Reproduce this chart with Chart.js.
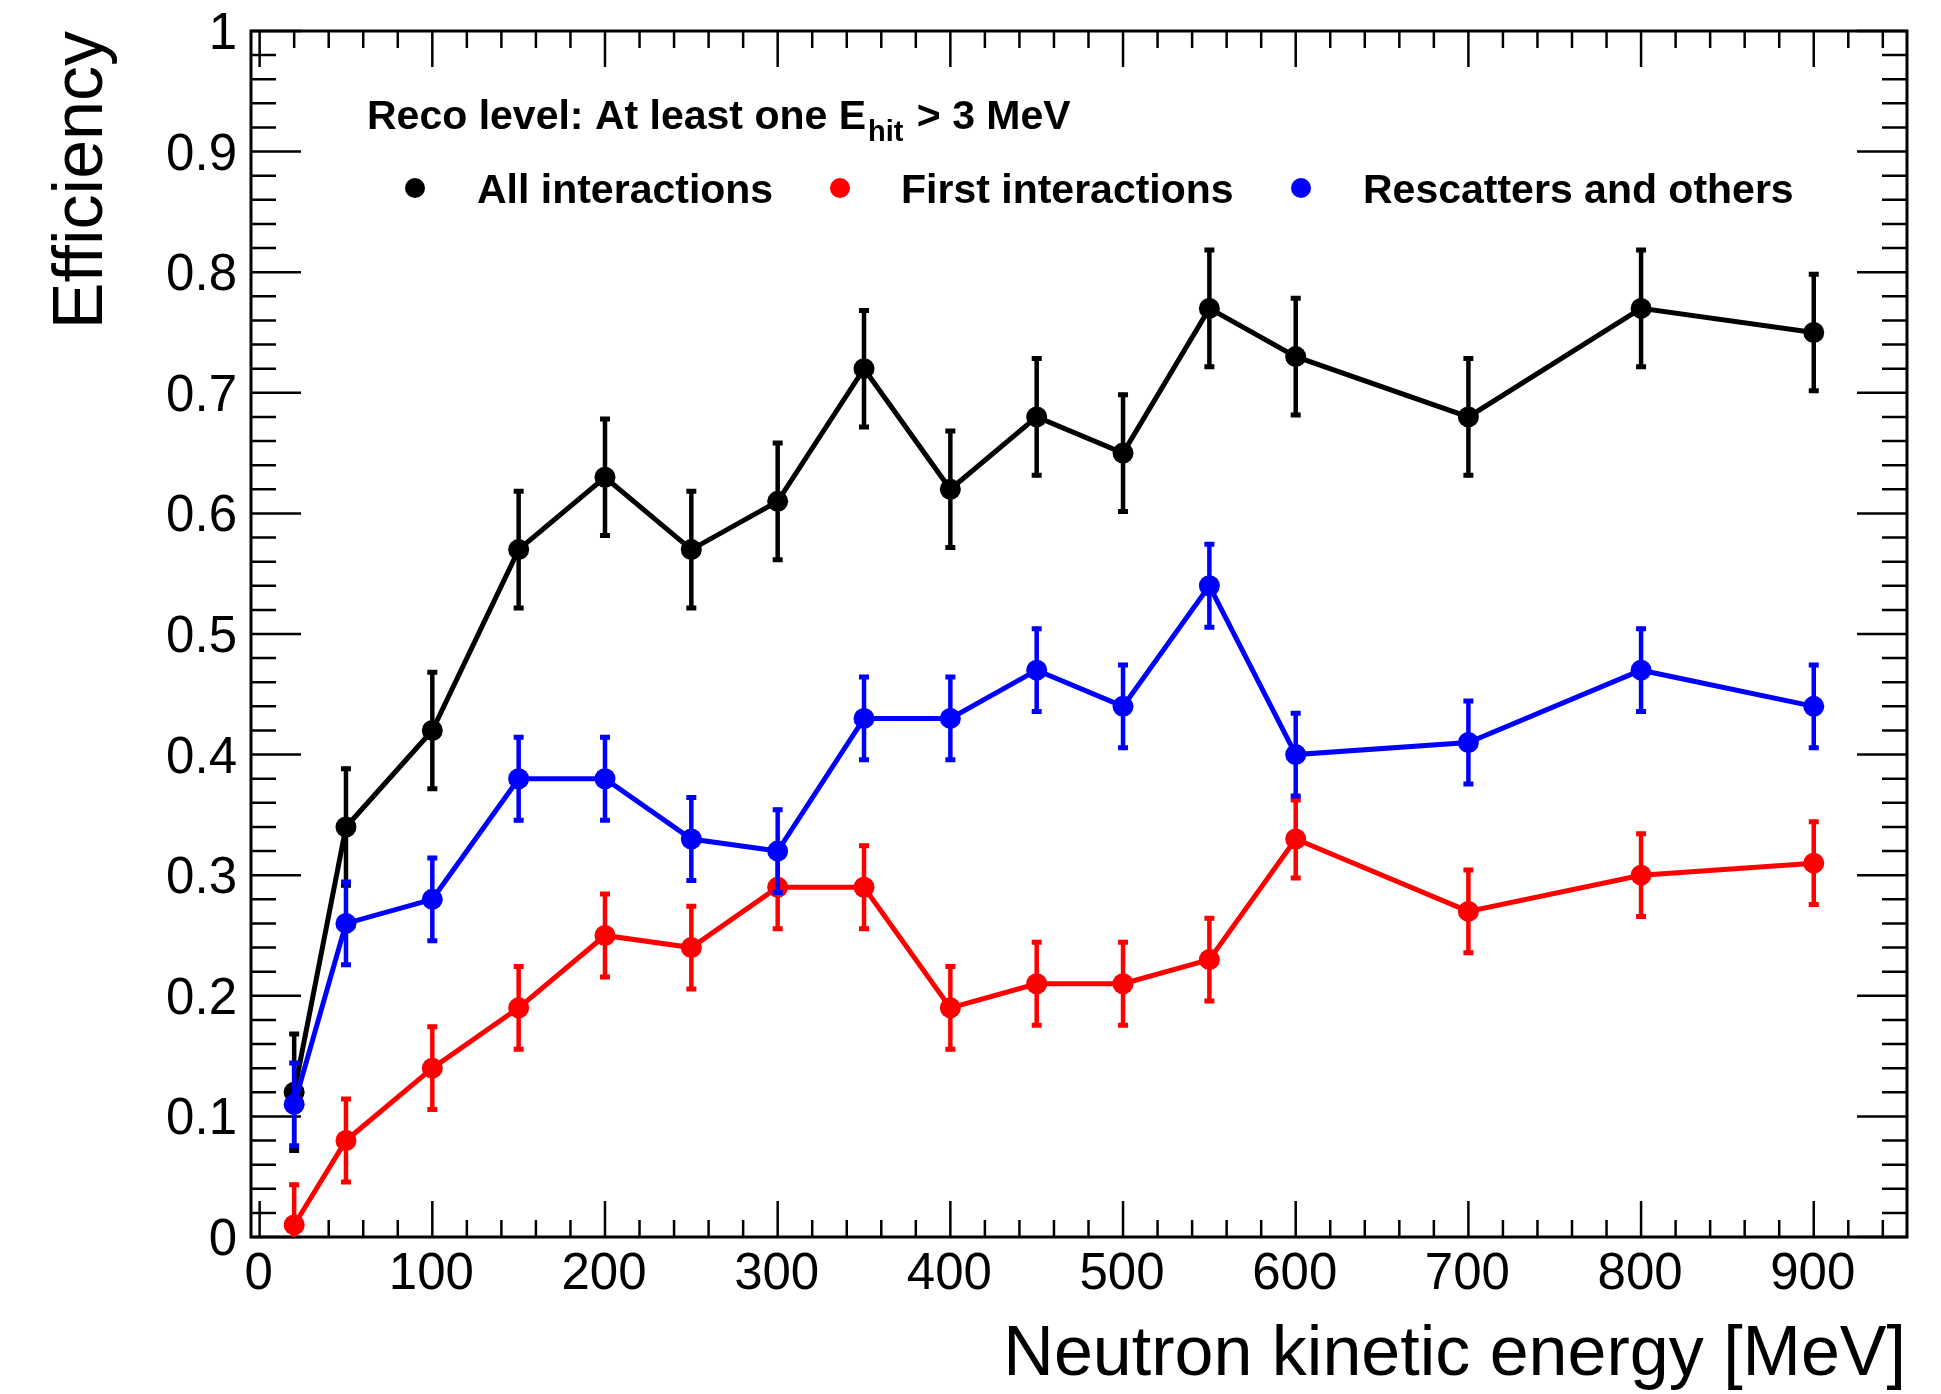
<!DOCTYPE html>
<html><head><meta charset="utf-8">
<script src="https://cdn.jsdelivr.net/npm/chart.js@4/dist/chart.umd.min.js"></script>
<style>html,body{margin:0;padding:0;background:#fff;overflow:hidden}#wrap{width:1941px;height:1394px;position:relative}</style>
</head><body><div id="wrap"><canvas id="c" width="1941" height="1394"></canvas></div>
<script>
// ---- data ----
const energies = [20, 50, 100, 150, 200, 250, 300, 350, 400, 450, 500, 550, 600, 700, 800, 900];
const allEff   = [0.12, 0.34, 0.42, 0.57, 0.63, 0.57, 0.61, 0.72, 0.62, 0.68, 0.65, 0.77, 0.73, 0.68, 0.77, 0.75];
const allErr   = [0.05, 0.05, 0.05, 0.05, 0.05, 0.05, 0.05, 0.05, 0.05, 0.05, 0.05, 0.05, 0.05, 0.05, 0.05, 0.05];
const firstEff = [0.01, 0.08, 0.14, 0.19, 0.25, 0.24, 0.29, 0.29, 0.19, 0.21, 0.21, 0.23, 0.33, 0.27, 0.30, 0.31];
const firstErr = [0.035, 0.036, 0.036, 0.036, 0.036, 0.036, 0.036, 0.036, 0.036, 0.036, 0.036, 0.036, 0.034, 0.036, 0.036, 0.036];
const rescEff  = [0.11, 0.26, 0.28, 0.38, 0.38, 0.33, 0.32, 0.43, 0.43, 0.47, 0.44, 0.54, 0.40, 0.41, 0.47, 0.44];
const rescErr  = [0.036, 0.036, 0.036, 0.036, 0.036, 0.036, 0.036, 0.036, 0.036, 0.036, 0.036, 0.036, 0.036, 0.036, 0.036, 0.036];
const seriesNames = ['All interactions', 'First interactions', 'Rescatters and others'];
const seriesColors = ['#000000', '#ff0000', '#0000ff'];
const xTickValues = [0, 100, 200, 300, 400, 500, 600, 700, 800, 900];
const xTickLabels = ['0', '100', '200', '300', '400', '500', '600', '700', '800', '900'];
const yTickValues = [0, 0.1, 0.2, 0.3, 0.4, 0.5, 0.6, 0.7, 0.8, 0.9, 1];
const yTickLabels = ['0', '0.1', '0.2', '0.3', '0.4', '0.5', '0.6', '0.7', '0.8', '0.9', '1'];
const xTitle = 'Neutron kinetic energy [MeV]';
const yTitle = 'Efficiency';
const headerMain = 'Reco level: At least one E';
const headerSub = 'hit';
const headerTail = ' > 3 MeV';

const FONT = '"Liberation Sans", Arial, Helvetica, sans-serif';

function pts(vals) { return energies.map((x, i) => ({x: x, y: vals[i]})); }

function mkDs(i, vals, errs, order) {
  return {
    label: seriesNames[i], data: pts(vals), errors: errs,
    borderColor: seriesColors[i], backgroundColor: seriesColors[i],
    pointBackgroundColor: seriesColors[i], pointBorderWidth: 0,
    pointRadius: 10.5, borderWidth: 5, tension: 0, order: order
  };
}

const errorBars = {
  id: 'errorBars',
  beforeDatasetDraw(chart, args) {
    const ds = chart.data.datasets[args.index];
    const ys = chart.scales.y, ca = chart.chartArea, ctx = chart.ctx;
    ctx.save();
    ctx.beginPath(); ctx.rect(ca.left, ca.top, ca.right - ca.left, ca.bottom - ca.top); ctx.clip();
    ctx.strokeStyle = ds.borderColor; ctx.lineCap = 'butt';
    args.meta.data.forEach((el, i) => {
      const v = ds.data[i].y, e = ds.errors[i];
      const yt = ys.getPixelForValue(v + e), yb = ys.getPixelForValue(v - e);
      ctx.lineWidth = 4.5;
      ctx.beginPath(); ctx.moveTo(el.x, yt); ctx.lineTo(el.x, yb); ctx.stroke();
      ctx.lineWidth = 5;
      ctx.beginPath();
      ctx.moveTo(el.x - 5, yt + 2); ctx.lineTo(el.x + 5, yt + 2);
      ctx.moveTo(el.x - 5, yb - 2); ctx.lineTo(el.x + 5, yb - 2);
      ctx.stroke();
    });
    ctx.restore();
  }
};

const frameAxes = {
  id: 'frameAxes',
  beforeDatasetsDraw(chart) {
    const ctx = chart.ctx, ca = chart.chartArea, xs = chart.scales.x, ys = chart.scales.y;
    ctx.save();
    ctx.strokeStyle = '#000'; ctx.lineWidth = 3;
    ctx.strokeRect(ca.left, ca.top, ca.right - ca.left, ca.bottom - ca.top);
    ctx.lineWidth = 2.5;
    ctx.beginPath();
    // x ticks (bottom and top)
    for (let v = 0; v <= xs.max; v += 20) {
      const px = xs.getPixelForValue(v);
      const major = xTickValues.indexOf(v) >= 0;
      const len = major ? 36 : 17;
      ctx.moveTo(px, ca.bottom); ctx.lineTo(px, ca.bottom - len);
      ctx.moveTo(px, ca.top); ctx.lineTo(px, ca.top + len);
    }
    // y ticks (left and right)
    for (let k = 0; k <= 50; k++) {
      const v = k * 0.02;
      const py = ys.getPixelForValue(v);
      const major = (k % 5 === 0);
      const len = major ? 50 : 25;
      ctx.moveTo(ca.left, py); ctx.lineTo(ca.left + len, py);
      ctx.moveTo(ca.right, py); ctx.lineTo(ca.right - len, py);
    }
    ctx.stroke();
    ctx.restore();
  },
  afterDraw(chart) {
    const ctx = chart.ctx, ca = chart.chartArea, xs = chart.scales.x, ys = chart.scales.y;
    ctx.save();
    ctx.fillStyle = '#000';
    ctx.font = '51px ' + FONT;
    ctx.textBaseline = 'alphabetic';
    ctx.textAlign = 'right';
    yTickValues.forEach((v, i) => {
      ctx.fillText(yTickLabels[i], ca.left - 14, ys.getPixelForValue(v) + 18);
    });
    ctx.textAlign = 'center';
    xTickValues.forEach((v, i) => {
      ctx.fillText(xTickLabels[i], xs.getPixelForValue(v) - 1, ca.bottom + 52);
    });
    // axis titles
    ctx.font = '70px ' + FONT;
    ctx.textAlign = 'right';
    ctx.fillText(xTitle, ca.right - 1, 1375);
    ctx.save();
    ctx.translate(102, ca.top);
    ctx.rotate(-Math.PI / 2);
    ctx.textAlign = 'right';
    ctx.fillText(yTitle, 0, 0);
    ctx.restore();
    // header
    ctx.textAlign = 'left';
    ctx.font = 'bold 41px ' + FONT;
    let x = 367;
    ctx.fillText(headerMain, x, 129);
    x += ctx.measureText(headerMain).width + 2;
    ctx.font = 'bold 29px ' + FONT;
    ctx.fillText(headerSub, x, 141);
    x += ctx.measureText(headerSub).width + 2;
    ctx.font = 'bold 41px ' + FONT;
    ctx.fillText(headerTail, x, 129);
    // legend entries
    const mx = [415, 840, 1301], tx = [477, 901, 1363];
    for (let i = 0; i < 3; i++) {
      ctx.fillStyle = seriesColors[i];
      ctx.beginPath(); ctx.arc(mx[i], 188, 10, 0, Math.PI * 2); ctx.fill();
      ctx.fillStyle = '#000';
      ctx.fillText(seriesNames[i], tx[i], 203);
    }
    ctx.restore();
  }
};

new Chart(document.getElementById('c'), {
  type: 'line',
  data: {
    datasets: [
      mkDs(0, allEff, allErr, 3),
      mkDs(1, firstEff, firstErr, 2),
      mkDs(2, rescEff, rescErr, 1)
    ]
  },
  options: {
    responsive: false, devicePixelRatio: 1, animation: false,
    layout: {padding: {left: 251, top: 31, right: 1941 - 1907, bottom: 1394 - 1237}},
    plugins: {legend: {display: false}, tooltip: {enabled: false}, title: {display: false}},
    scales: {
      x: {type: 'linear', min: -5, max: 954, display: false},
      y: {type: 'linear', min: 0, max: 1, display: false}
    }
  },
  plugins: [errorBars, frameAxes]
});
</script>
</body></html>
